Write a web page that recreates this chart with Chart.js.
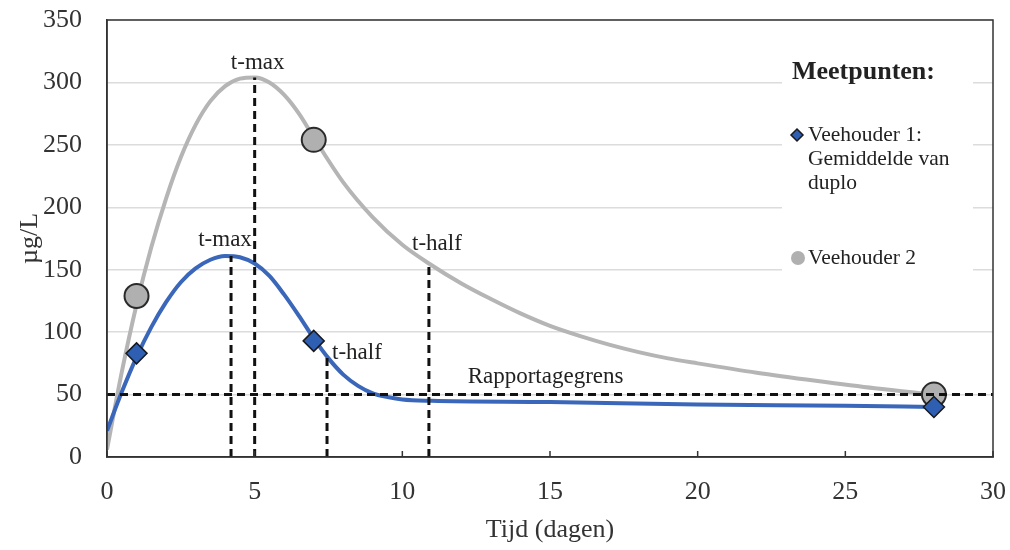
<!DOCTYPE html>
<html lang="nl">
<head>
    <meta charset="UTF-8">
    <title>Meetpunten</title>
    <script src="https://cdn.jsdelivr.net/npm/chart.js"></script>
    <style>
        body { margin: 0; background: #fff; }
        #wrap { width: 1010px; height: 550px; }
    </style>
</head>
<body>
    <div id="wrap"><canvas id="chart"></canvas></div>
    <script>
        // fitted curves
        const grayCurveX = [0, 0.5, 1, 1.5, 2, 2.5, 3, 3.5, 4, 4.5, 5, 5.5, 6, 6.5, 7, 8, 9, 10, 10.9, 12, 13, 14, 15, 16, 17, 18, 19, 20, 22, 24, 26, 28];
        const grayCurveY = [6, 68, 122, 168, 207, 240, 266, 285, 297, 303, 304, 300, 290, 275, 256, 220, 192, 170, 155, 139, 126.5, 115, 105, 97, 90, 84, 79, 75, 67.5, 61, 55, 50];
        const blueCurveX = [0, 0.5, 1, 1.5, 2, 2.5, 3, 3.5, 4, 4.5, 5, 5.5, 6, 6.5, 7, 7.5, 8, 8.5, 9, 9.5, 10, 11, 15, 20, 25, 28];
        const blueCurveY = [21, 52, 80, 104, 124, 140, 151, 158, 161, 160, 155, 145, 130, 113, 95, 79, 66, 57, 51, 48, 46, 45, 44, 42, 41, 40];

        // measured points
        const measureX = [1, 7, 28];
        const farmer1 = [83, 93, 40];
        const farmer2 = [129, 254, 50];

        // reference lines
        const reportLimit = 50;
        const tMaxGray = [5, 304];
        const tMaxBlue = [4.2, 161];
        const tHalfBlue = [7.45, 80];
        const tHalfGray = [10.9, 155];

        const xTicks = [0, 5, 10, 15, 20, 25, 30];
        const yTicks = [0, 50, 100, 150, 200, 250, 300, 350];

        const serif = '"Liberation Serif", "DejaVu Serif", serif';
        const dash = { borderColor: '#111', borderWidth: 3, borderDash: [8, 5], pointRadius: 0, showLine: true, fill: false };

        function pts(xs, ys) { return xs.map((x, i) => ({ x: x, y: ys[i] })); }
        function vline(p) { return [{ x: p[0], y: 0 }, { x: p[0], y: p[1] }]; }

        const overlay = {
            id: 'overlay',
            beforeDatasetsDraw(chart) {
                const ctx = chart.ctx;
                ctx.save();
                // legend box
                ctx.fillStyle = '#fff';
                ctx.fillRect(782, 36, 191, 243);
                ctx.fillStyle = '#222';
                ctx.textAlign = 'left';
                ctx.textBaseline = 'alphabetic';
                ctx.font = 'bold 26px ' + serif;
                ctx.fillText('Meetpunten:', 792, 79);
                ctx.font = '21.5px ' + serif;
                ctx.fillText('Veehouder 1:', 808, 141);
                ctx.fillText('Gemiddelde van', 808, 165);
                ctx.fillText('duplo', 808, 189);
                ctx.fillText('Veehouder 2', 808, 264);
                // legend markers
                ctx.beginPath();
                ctx.moveTo(797, 129); ctx.lineTo(803, 135); ctx.lineTo(797, 141); ctx.lineTo(791, 135); ctx.closePath();
                ctx.fillStyle = '#2f5fb3'; ctx.fill();
                ctx.lineWidth = 1.5; ctx.strokeStyle = '#1a1a1a'; ctx.stroke();
                ctx.beginPath();
                ctx.arc(798, 258, 7, 0, Math.PI * 2);
                ctx.fillStyle = '#b0b0b0'; ctx.fill();
                ctx.restore();
            },
            afterDatasetsDraw(chart) {
                const ctx = chart.ctx;
                const xs = chart.scales.x, ys = chart.scales.y;
                const a = chart.chartArea;
                ctx.save();
                // frame
                ctx.strokeStyle = '#333';
                ctx.lineWidth = 1.5;
                ctx.strokeRect(a.left, a.top, a.right - a.left, a.bottom - a.top);
                // inward x ticks
                xs.ticks.forEach(t => {
                    const px = xs.getPixelForValue(t.value);
                    ctx.beginPath();
                    ctx.moveTo(px, a.bottom);
                    ctx.lineTo(px, a.bottom - 6);
                    ctx.stroke();
                });
                // labels
                ctx.fillStyle = '#222';
                ctx.font = '23px ' + serif;
                ctx.textBaseline = 'alphabetic';
                ctx.textAlign = 'center';
                ctx.fillText('t-max', xs.getPixelForValue(tMaxGray[0]) + 3, ys.getPixelForValue(tMaxGray[1]) - 8);
                ctx.fillText('t-max', xs.getPixelForValue(tMaxBlue[0]) - 6, ys.getPixelForValue(tMaxBlue[1]) - 10);
                ctx.fillText('t-half', xs.getPixelForValue(tHalfGray[0]) + 8, ys.getPixelForValue(tHalfGray[1]) - 13);
                ctx.fillText('Rapportagegrens', xs.getPixelForValue(14.85), ys.getPixelForValue(reportLimit) - 12);
                ctx.textAlign = 'left';
                ctx.fillText('t-half', xs.getPixelForValue(tHalfBlue[0]) + 5, ys.getPixelForValue(tHalfBlue[1]) + 2);
                ctx.restore();
            }
        };

        new Chart(document.getElementById('chart'), {
            type: 'scatter',
            data: {
                datasets: [
                    Object.assign({ data: [{ x: 0, y: reportLimit }, { x: 30, y: reportLimit }] }, dash),
                    Object.assign({ data: vline(tMaxGray) }, dash),
                    Object.assign({ data: vline(tMaxBlue) }, dash),
                    Object.assign({ data: vline(tHalfBlue) }, dash),
                    Object.assign({ data: vline(tHalfGray) }, dash),
                    {
                        label: 'Veehouder 1: Gemiddelde van duplo',
                        data: pts(measureX, farmer1),
                        pointStyle: 'rectRot',
                        pointRadius: 10.5,
                        backgroundColor: '#2f5fb3',
                        borderColor: '#1a1a1a',
                        borderWidth: 1.5
                    },
                    {
                        label: 'Veehouder 2',
                        data: pts(measureX, farmer2),
                        pointStyle: 'circle',
                        pointRadius: 12,
                        backgroundColor: '#b0b0b0',
                        borderColor: '#2a2a2a',
                        borderWidth: 2
                    },
                    {
                        data: pts(blueCurveX, blueCurveY),
                        showLine: true,
                        borderColor: '#3a67b9',
                        borderWidth: 4,
                        pointRadius: 0,
                        cubicInterpolationMode: 'monotone'
                    },
                    {
                        data: pts(grayCurveX, grayCurveY),
                        showLine: true,
                        borderColor: '#b5b5b5',
                        borderWidth: 4,
                        pointRadius: 0,
                        cubicInterpolationMode: 'monotone'
                    }
                ]
            },
            options: {
                responsive: true,
                maintainAspectRatio: false,
                animation: false,
                layout: { padding: 0 },
                plugins: { legend: { display: false }, tooltip: { enabled: false } },
                scales: {
                    x: {
                        type: 'linear',
                        min: 0, max: 30,
                        afterBuildTicks: s => { s.ticks = xTicks.map(v => ({ value: v })); },
                        afterFit: s => { s.height = 93; s.paddingRight = 17; s.paddingLeft = 0; },
                        grid: { drawOnChartArea: false, drawTicks: false },
                        border: { color: '#333', width: 1.5 },
                        ticks: { color: '#333', padding: 20, font: { family: serif, size: 26 } },
                        title: { display: true, text: 'Tijd (dagen)', color: '#333', padding: { top: 0, bottom: 4 }, font: { family: serif, size: 26 } }
                    },
                    y: {
                        min: 0, max: 350,
                        afterBuildTicks: s => { s.ticks = yTicks.map(v => ({ value: v })); },
                        afterFit: s => { s.width = 107; s.paddingTop = 20; s.paddingBottom = 0; },
                        grid: { color: '#dcdcdc', lineWidth: 1.5, drawTicks: false },
                        border: { color: '#333', width: 1.5 },
                        ticks: { color: '#333', padding: 25, font: { family: serif, size: 26 } },
                        title: { display: true, text: 'µg/L', color: '#333', padding: { top: 15, bottom: 0 }, font: { family: serif, size: 26 } }
                    }
                }
            },
            plugins: [overlay]
        });
    </script>
</body>
</html>
